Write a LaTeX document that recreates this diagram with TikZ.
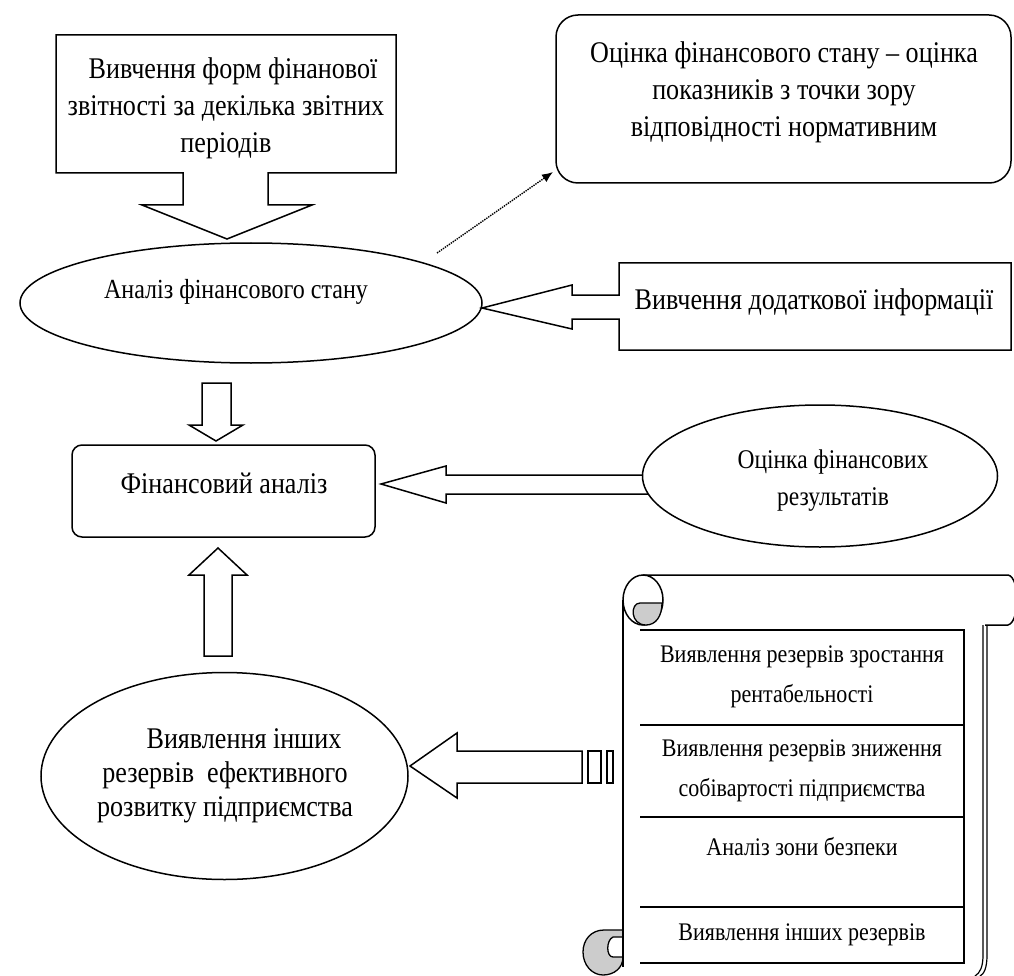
\documentclass[tikz,border=0pt]{standalone}
\usepackage{fontspec}
\setmainfont{Liberation Serif}[FakeStretch=0.87]
\usetikzlibrary{shapes.geometric,arrows.meta,calc}
\begin{document}
\begin{tikzpicture}[x=1pt,y=-1pt, line width=1.5pt, line join=miter,
  txt/.style={font=\fontsize{30}{37}\selectfont, align=center, inner sep=0pt},
  stxt/.style={font=\fontsize{25.3}{40}\selectfont, align=center, inner sep=0pt},
  shp/.style={draw=black, fill=white},
  ell/.style={shp, ellipse, inner sep=0pt},
  curl/.style={draw=black, fill=gray!40, line width=1.3pt},
]
\useasboundingbox (0,0) rectangle (1014,976);

% ---- top-left callout box with down arrow
\draw[shp] (56,35) -- (396,35) -- (396,173) -- (268,173) -- (268,205) -- (312,205)
  -- (227,239) -- (142,205) -- (183,205) -- (183,173) -- (56,173) -- cycle;
\node[txt] (src) at (226,108) {\hspace*{14pt}Вивчення форм фінанової\\звітності за декілька звітних\\періодів};

% ---- ellipse: analysis of financial state
\node[ell, minimum width=462pt, minimum height=120pt] (a1) at (251,303) {};
\node[txt, font=\fontsize{27.6}{37}\selectfont] (a1t) at (236,292) {Аналіз фінансового стану};

% ---- rounded box top right
\node[shp, rounded corners=22pt, minimum width=455pt, minimum height=168pt] (r1) at (783.5,99) {};
\node[txt] (r1t) at (784,92) {Оцінка фінансового стану – оцінка\\показників з точки зору\\відповідності нормативним};
\coordinate (d0) at (437,253);
\coordinate (d1) at (553,172);
\draw[densely dotted, line width=1.4pt, -{Latex[length=11pt,width=9pt]}] (d0) -- (d1);

% ---- box with additional information + left arrow
\draw[shp] (619,263) -- (1011,263) -- (1011,350) -- (619,350) -- (619,319) -- (572,319)
  -- (572,329) -- (482,308) -- (572,285) -- (572,295) -- (619,295) -- cycle;
\node[txt] (addt) at (814,302) {Вивчення додаткової інформації};

% ---- down arrow to financial analysis
\draw[shp] (202,383) -- (231,383) -- (231,425) -- (243,425) -- (216,441) -- (189,425) -- (202,425) -- cycle;

% ---- financial analysis box
\node[shp, rounded corners=10pt, minimum width=303pt, minimum height=92pt] (fa) at (223.5,491) {};
\node[txt] (fat) at (224,483) {Фінансовий аналіз};

% ---- arrow from results ellipse
\draw[shp] (650,475) -- (446,475) -- (446,466) -- (381,484) -- (446,503) -- (446,494) -- (650,494) -- cycle;
\node[ell, minimum width=355pt, minimum height=142pt] (res) at (820,476) {};
\node[txt, font=\fontsize{27}{37}\selectfont] (rest) at (833,481) {Оцінка фінансових\\результатів};

% ---- up arrow
\draw[shp] (204,656) -- (232,656) -- (232,575) -- (247,575) -- (218,548) -- (189,575) -- (204,575) -- cycle;

% ---- other reserves ellipse
\node[ell, minimum width=367pt, minimum height=207pt] (oth) at (224.5,776) {};
\node[txt, font=\fontsize{30}{34}\selectfont] (otht) at (225,776) {\hspace*{38pt}Виявлення інших\\резервів\ \ ефективного\\розвитку підприємства};

% ---- arrow from scroll to ellipse
\draw[shp] (582,751) -- (457,751) -- (457,733) -- (410,766) -- (457,798) -- (457,783) -- (582,783) -- cycle;
\draw[shp, line width=1.3pt] (588,751) rectangle (601,783);
\draw[shp, line width=1.3pt] (607,751) rectangle (613,783);

% ---- scroll
\draw (643,575) -- (1008,575) .. controls (1020,577) and (1020,622) .. (1008,625) -- (985,625);
\draw (643,600) ellipse (20 and 25);
\draw[curl] (662,603) -- (640,603) .. controls (630,603) and (630,625) .. (646,625)
  .. controls (656,625) and (662,616) .. (662,603) -- cycle;
\draw[curl] (623,930) -- (604,930) .. controls (591,930) and (583,940) .. (583,952)
  .. controls (583,965) and (592,975) .. (603,975) .. controls (614,975) and (623,968) .. (623,957)
  -- (613,957) .. controls (606,957) and (606,940) .. (613,937) -- (623,937) -- cycle;
\draw (623,600) -- (623,967);
\draw[line width=1.2pt] (983,625) -- (983,955) .. controls (983,967) and (980,973) .. (975,976);
\draw[line width=1.2pt] (987,625) -- (987,955) .. controls (987,968) and (984,974) .. (980,976);
% table
\draw (640,630) -- (964,630) -- (964,963) -- (640,963);
\draw (640,725) -- (964,725);
\draw (640,817) -- (964,817);
\draw (640,907) -- (964,907);
\node[stxt] (s1) at (802,677) {Виявлення резервів зростання\\рентабельності};
\node[stxt] (s2) at (802,771) {Виявлення резервів зниження\\собівартості підприємства};
\node[stxt] (s3) at (802,847) {Аналіз зони безпеки};
\node[stxt] (s4) at (802,935) {Виявлення інших резервів};
\end{tikzpicture}
\end{document}
